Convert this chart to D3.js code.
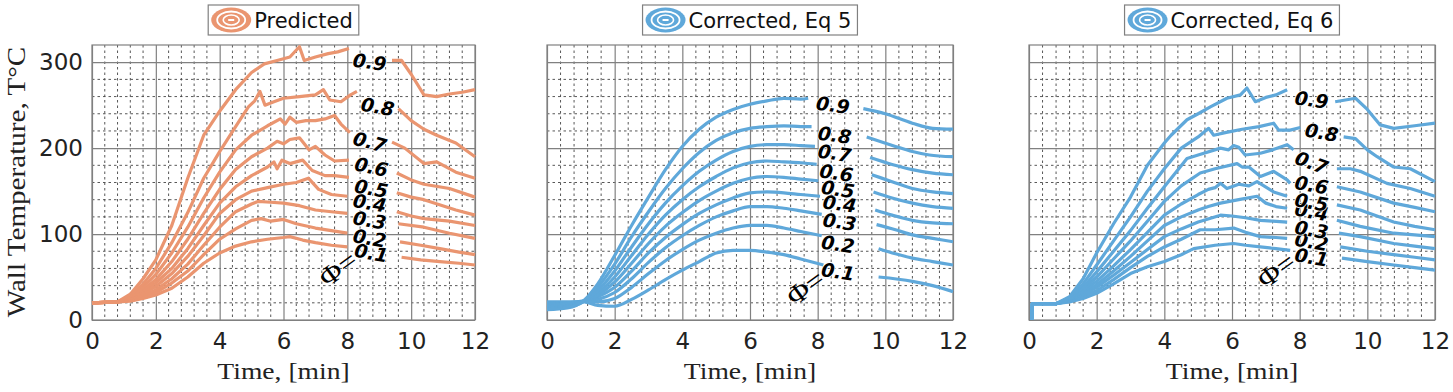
<!DOCTYPE html>
<html lang="en">
<head>
<meta charset="UTF-8">
<title>Wall temperature</title>
<script src="https://cdn.jsdelivr.net/npm/d3@7/dist/d3.min.js"></script>
<style>
  body { margin: 0; background: #fff; }
</style>
</head>
<body>
<svg width="1453" height="392"></svg>
<script>
// labels and ticks
const phiLabels = ["0.1", "0.2", "0.3", "0.4", "0.5", "0.6", "0.7", "0.8", "0.9"];
const panelTitles = ["Predicted", "Corrected, Eq 5", "Corrected, Eq 6"];
const xTicks = [0, 2, 4, 6, 8, 10, 12];
const yTicks = [0, 100, 200, 300];

// series as [time (min), temperature (C)], null = break around the label
const predicted = [
  [[0,20],[0.8,21],[1.2,22],[1.6,25],[2,29],[2.5,37],[3,50],[3.5,66],[4,78],[4.5,86],[5,91],[5.5,94],[6,96],[6.2,97],[6.6,93],[7,90],[7.5,87],[8,85],null,[9.7,73],[10.3,70],[10.9,68],[11.5,66],[12,64]],
  [[0,20],[0.8,21],[1.2,23],[1.6,27],[2,32],[2.5,43],[3,57],[3.5,76],[4,94],[4.5,106],[5,116],[5.3,118],[5.6,115],[6,117],[6.4,112],[7,107],[7.5,104],[8,101],null,[9.65,91],[10.3,87],[10.9,83],[11.5,79],[12,76]],
  [[0,20],[0.8,21],[1.2,23.5],[1.6,29],[2,35],[2.5,48],[3,65],[3.5,87],[4,108],[4.5,126],[5,135],[5.2,138],[5.6,137],[6,136],[6.5,133],[7,128],[7.5,126],[8,124],null,[9.6,112],[10.4,108],[11.2,101],[12,95]],
  [[0,20],[0.8,21],[1.2,24],[1.6,31],[2,39],[2.5,54],[3,74],[3.5,98],[4,124],[4.5,140],[5,150],[5.5,154],[6,158],[6.4,160],[6.78,165],[7.1,152],[7.5,146],[8,144],null,[9.55,126],[10,121],[10.4,118],[11.2,115],[12,110]],
  [[0,20],[0.8,21],[1.2,25],[1.6,33],[2,43],[2.5,60],[3,83],[3.5,110],[4,136],[4.5,155],[5,168],[5.5,178],[5.7,184],[5.8,176],[5.95,186],[6.2,182],[6.6,186],[6.9,174],[7.3,168],[7.6,168],[8.05,166],null,[9.55,148],[10,143],[10.4,140],[11.4,128],[12,122]],
  [[0,20],[0.8,21],[1.2,26],[1.6,35],[2,47],[2.5,68],[3,94],[3.5,124],[4,152],[4.5,175],[5,190],[5.5,200],[5.8,208],[6,205],[6.2,210],[6.5,212],[6.8,198],[7,202],[7.3,192],[7.6,185],[8.05,186],null,[9.55,171],[10,163],[10.4,158],[11.2,153],[12,143]],
  [[0,20],[0.8,21],[1.2,27],[1.6,38],[2,53],[2.5,78],[3,108],[3.5,142],[4,172],[4.5,198],[5,215],[5.5,226],[5.9,234],[6.05,228],[6.2,236],[6.4,230],[6.7,232],[7,232],[7.3,234],[7.6,238],[7.8,228],[8.08,218],null,[9.4,207],[9.8,200],[10.4,182],[10.8,184],[11.4,172],[12,165]],
  [[0,20],[0.8,21],[1.2,28],[1.6,42],[2,60],[2.5,90],[3,125],[3.5,165],[4,196],[4.5,225],[4.9,248],[5.1,255],[5.26,266],[5.42,250],[5.7,254],[6,258],[6.5,260],[7,262],[7.25,268],[7.45,256],[7.8,254],[8.1,262],[8.3,266],null,[9.6,246],[10,232],[10.4,222],[10.8,215],[11.4,206],[12,190]],
  [[0,20],[0.8,21],[1.2,30],[1.6,48],[2,70],[2.5,110],[3,165],[3.5,215],[4,243],[4.5,268],[5,288],[5.4,298],[5.8,302],[6.2,306],[6.5,318],[6.65,302],[7,306],[7.4,310],[7.7,312],[8.05,316],null,[9.4,302],[9.7,302],[10,286],[10.4,262],[10.8,260],[11.2,263],[11.6,265],[12,268]]
];

const correctedEq5 = [
  [[0,21],[0.6,21],[1.1,21],[1.5,17],[2,16],[2.5,24],[3,35],[3.5,47],[4,58],[4.5,68],[5,78],[5.5,81],[6,81],[6.5,79],[7,76],[7.5,71],[8.17,64],null,[9.8,50],[10.8,45],[11.4,40],[12,33]],
  [[0,19.5],[0.6,20],[1.1,22],[1.5,21],[2,25],[2.5,38],[3,54],[3.5,69],[4,82],[4.5,93],[5,101],[5.5,107],[6,110],[6.5,110],[7,107],[7.5,103],[8.12,98],null,[9.8,83],[10.3,77],[10.8,72],[11.4,68],[12,64]],
  [[0,18.5],[0.6,19.5],[1.1,22],[1.5,24],[2,32],[2.5,48],[3,67],[3.5,84],[4,98],[4.5,110],[5,120],[5.5,127],[6,132],[6.5,132],[7,130],[7.5,127],[8.12,123],null,[9.74,111],[10.3,105],[10.8,99],[11.4,95],[12,91]],
  [[0,17.5],[0.6,18.5],[1.1,22],[1.5,27],[2,38],[2.5,57],[3,78],[3.5,96],[4,111],[4.5,124],[5,134],[5.5,142],[6,148],[6.5,149],[7,148],[7.5,146],[8.07,144],null,[9.7,128],[10.2,122],[10.8,116],[11.4,113],[12,112]],
  [[0,16],[0.6,17.5],[1.1,22],[1.5,29],[2,44],[2.5,66],[3,89],[3.5,109],[4,125],[4.5,139],[5,150],[5.5,159],[6,165],[6.5,167],[7,166],[7.5,164],[8.02,162],null,[9.65,149],[10.2,142],[10.8,136],[11.4,132],[12,130]],
  [[0,15],[0.6,16.5],[1.1,22],[1.5,31],[2,50],[2.5,75],[3,100],[3.5,122],[4,140],[4.5,155],[5,167],[5.5,177],[6,183],[6.5,185],[7,184],[7.5,183],[7.97,181],null,[9.6,169],[10.2,161],[10.8,153],[11.4,149],[12,147]],
  [[0,14],[0.6,16],[1.1,22],[1.5,34],[2,57],[2.5,85],[3,112],[3.5,136],[4,156],[4.5,173],[5,186],[5.5,196],[6,202],[6.5,204],[7,204],[7.5,203],[7.92,202],null,[9.55,189],[10.2,181],[10.8,175],[11.4,171],[12,169]],
  [[0,13],[0.6,15],[1.1,22],[1.5,38],[2,65],[2.5,97],[3,126],[3.5,153],[4,176],[4.5,195],[5,209],[5.5,218],[6,223],[6.5,225],[7,226],[7.5,225],[7.82,225],null,[9.45,213],[10.3,202],[10.8,196],[11.3,192],[12,190]],
  [[0,12],[0.6,14],[1.1,23],[1.5,42],[2,75],[2.5,110],[3,143],[3.5,175],[4,202],[4.5,222],[5,236],[5.5,245],[6,251],[6.5,255],[7,258],[7.5,257],[7.72,258],null,[9.35,246],[10,240],[10.8,229],[11.4,223],[12,222]]
];

const correctedEq6 = [
  [[0.08,0],[0.1,19],[0.8,19],[1.2,21],[1.6,25],[2,31],[2.5,42],[3,54],[3.5,62],[4,68],[4.5,76],[4.87,83],[5.5,87],[6.05,89],[6.4,87],[6.84,85],[7.3,83],[7.72,81],null,[9.25,72],[10,68],[10.78,64],[11.4,61],[12,58]],
  [[0.08,0],[0.1,19],[0.8,19],[1.2,22],[1.6,27],[2,34],[2.5,47],[3,61],[3.5,74],[4,85],[4.5,94],[5.06,105],[5.5,105],[6.05,107],[6.4,102],[6.84,97],[7.3,96],[7.63,95],null,[9.2,85],[10,80],[10.78,76],[11.4,73],[12,70]],
  [[0.08,0],[0.1,19],[0.8,19],[1.2,22.5],[1.6,29],[2,38],[2.5,52],[3,67],[3.5,82],[4,97],[4.5,106],[5,114],[5.66,122],[6,121],[6.4,119],[6.84,116],[7.2,115],[7.63,114],null,[9.16,101],[9.79,97],[10.78,89],[11.4,86],[12,83]],
  [[0.08,0],[0.1,19],[0.8,19],[1.2,23],[1.6,31],[2,41],[2.5,57],[3,74],[3.5,92],[4,110],[4.5,120],[5,128],[5.3,132],[5.66,136],[6.2,140],[6.74,144],[7,136],[7.3,132],[7.63,130],null,[9.1,116],[9.79,109],[10.78,101],[11.4,99],[12,97]],
  [[0.08,0],[0.1,19],[0.8,19],[1.2,23.5],[1.6,33],[2,45],[2.5,63],[3,82],[3.5,102],[4,122],[4.5,135],[5,146],[5.3,152],[5.5,154],[5.66,159],[5.85,153],[6.2,158],[6.5,156],[6.74,161],[7.23,149],[7.63,144],null,[9.1,134],[9.79,128],[10.78,114],[11.4,109],[12,105]],
  [[0.08,0],[0.1,19],[0.8,19],[1.2,24],[1.6,35],[2,50],[2.5,71],[3,92],[3.5,115],[4,138],[4.5,156],[5.06,171],[5.5,176],[6.15,182],[6.3,178],[6.5,178],[6.84,167],[7.23,173],[7.63,163],[7.72,159],null,[9.1,155],[9.79,149],[10.78,136],[11.4,131],[12,126]],
  [[0.08,0],[0.1,19],[0.8,19],[1.2,25],[1.6,38],[2,56],[2.5,80],[3,104],[3.5,130],[4,155],[4.67,188],[5,192],[5.66,200],[5.9,198],[6.05,203],[6.2,201],[6.39,192],[6.84,194],[7.2,198],[7.63,204],[7.82,198],null,[9.1,176],[9.5,176],[9.79,173],[10.58,159],[11.27,153],[12,144]],
  [[0.08,0],[0.1,19],[0.8,19],[1.2,26],[1.6,42],[2,64],[2.5,92],[3,120],[3.5,150],[4,176],[4.5,200],[5,213],[5.31,223],[5.46,215],[5.8,218],[6.3,222],[6.8,225],[7.23,229],[7.38,221],[7.72,221],[8.02,224],null,[9.3,213],[9.65,211],[10,198],[10.29,190],[10.78,178],[11.27,176],[12,161]],
  [[0.08,0],[0.1,19],[0.8,19],[1.2,27],[1.6,48],[2,78],[2.5,112],[3,143],[3.5,180],[4,206],[4.2,215],[4.67,233],[5,240],[5.36,248],[5.85,258],[6.25,262],[6.44,270],[6.69,254],[7,259],[7.3,262],[7.63,268],null,[9.05,254],[9.65,258],[10,245],[10.38,227],[10.78,223],[11.4,226],[12,229]]
];

// where the phi labels sit, [time, temperature, angle]
const labelSpots = [
  [[8.75,78,10],[8.7,95,10],[8.7,116,10],[8.7,136,10],[8.75,153,10],[8.75,178,12],[8.7,207,15],[8.95,248,10],[8.7,300,8]],
  [[8.6,56,8],[8.6,88,8],[8.65,114,8],[8.65,135,8],[8.6,152,8],[8.55,171,8],[8.5,194,8],[8.5,215,8],[8.45,250,8]],
  [[8.35,73,10],[8.35,91,10],[8.35,105,10],[8.35,126,10],[8.35,137,10],[8.35,157,10],[8.35,183,20],[8.65,218,10],[8.35,256,8]]
];
const phiSpots = [[7.7, 60], [7.63, 38], [7.3, 58]];

const colors = ["#EA9570", "#5FA8DA", "#5FA8DA"];
const panels = [
  { left: 92, right: 475, series: predicted, curve: d3.curveLinear },
  { left: 547, right: 953, series: correctedEq5, curve: d3.curveMonotoneX },
  { left: 1029, right: 1435, series: correctedEq6, curve: d3.curveLinear }
];
const plotTop = 45, plotBottom = 320;

const svg = d3.select("svg");

panels.forEach(function (p, pi) {
  const x = d3.scaleLinear().domain([0, 12]).range([p.left, p.right]);
  const y = d3.scaleLinear().domain([0, 320]).range([plotBottom, plotTop]);
  const g = svg.append("g");

  // minor grid
  const minorX = d3.range(0, 12.001, 0.4).filter(function (v) { return Math.abs(v / 2 - Math.round(v / 2)) > 0.01; });
  const minorY = d3.range(20, 320, 20).filter(function (v) { return v % 100 !== 0; });
  g.selectAll(".mx").data(minorX).enter().append("line")
    .attr("x1", function (d) { return x(d); }).attr("x2", function (d) { return x(d); })
    .attr("y1", plotTop).attr("y2", plotBottom)
    .attr("stroke", "#444").attr("stroke-width", 0.9).attr("stroke-dasharray", "2.5,3");
  g.selectAll(".my").data(minorY).enter().append("line")
    .attr("x1", p.left).attr("x2", p.right)
    .attr("y1", function (d) { return y(d); }).attr("y2", function (d) { return y(d); })
    .attr("stroke", "#444").attr("stroke-width", 0.9).attr("stroke-dasharray", "2.5,3");

  // major grid via axes
  g.append("g")
    .attr("transform", "translate(0," + plotBottom + ")")
    .call(d3.axisBottom(x).tickValues(xTicks).tickSize(-(plotBottom - plotTop)).tickPadding(13))
    .call(function (a) {
      a.select(".domain").remove();
      a.selectAll("line").attr("stroke", "#808080").attr("stroke-width", 1.2);
      a.selectAll("text").attr("font-family", "DejaVu Sans").attr("font-size", 23).attr("fill", "#222");
    });
  g.append("g")
    .attr("transform", "translate(" + p.left + ",0)")
    .call(d3.axisLeft(y).tickValues(yTicks).tickSize(-(p.right - p.left)).tickPadding(9))
    .call(function (a) {
      a.select(".domain").remove();
      a.selectAll("line").attr("stroke", "#808080").attr("stroke-width", 1.2);
      a.selectAll("text").attr("font-family", "DejaVu Sans").attr("font-size", 23).attr("fill", "#222");
      if (pi > 0) a.selectAll("text").remove();
    });
  g.append("rect")
    .attr("x", p.left).attr("y", plotTop)
    .attr("width", p.right - p.left).attr("height", plotBottom - plotTop)
    .attr("fill", "none").attr("stroke", "#808080").attr("stroke-width", 1.2);

  // lines
  const line = d3.line()
    .defined(function (d) { return d !== null; })
    .x(function (d) { return x(d[0]); })
    .y(function (d) { return y(d[1]); })
    .curve(p.curve);
  g.selectAll(".series").data(p.series).enter().append("path")
    .attr("d", line)
    .attr("fill", "none")
    .attr("stroke", colors[pi])
    .attr("stroke-width", 3.2)
    .attr("stroke-linejoin", "round");

  // phi labels
  labelSpots[pi].forEach(function (s, i) {
    g.append("text")
      .attr("transform", "translate(" + x(s[0]) + "," + y(s[1]) + ") rotate(" + s[2] + ")")
      .attr("text-anchor", "middle").attr("dy", "0.35em")
      .attr("font-family", "DejaVu Sans").attr("font-weight", "bold").attr("font-style", "italic")
      .attr("font-size", 19).attr("fill", "#000")
      .attr("stroke", "#fff").attr("stroke-width", 1.5).attr("paint-order", "stroke")
      .text(phiLabels[i]);
  });
  g.append("text")
    .attr("transform", "translate(" + x(phiSpots[pi][0]) + "," + y(phiSpots[pi][1]) + ") rotate(-36) scale(1.15,1)")
    .attr("text-anchor", "middle").attr("dy", "0.35em")
    .attr("font-family", "Liberation Serif").attr("font-size", 27).attr("fill", "#000")
    .text("Φ=");

  // x label
  g.append("text")
    .attr("transform", "translate(" + ((p.left + p.right) / 2) + ",379) scale(1.2,1)")
    .attr("text-anchor", "middle")
    .attr("font-family", "Liberation Serif").attr("font-size", 23).attr("fill", "#222")
    .text("Time, [min]");

  // legend
  const lg = g.append("g");
  const box = lg.append("rect").attr("y", 5).attr("height", 30)
    .attr("fill", "#fff").attr("stroke", "#808080").attr("stroke-width", 1.2);
  const icon = lg.append("g");
  icon.append("ellipse").attr("rx", 20).attr("ry", 12.5).attr("fill", colors[pi]);
  icon.append("ellipse").attr("rx", 14).attr("ry", 8.5).attr("fill", "none").attr("stroke", "#fff").attr("stroke-width", 1.8);
  icon.append("ellipse").attr("rx", 8).attr("ry", 5).attr("fill", "none").attr("stroke", "#fff").attr("stroke-width", 1.6);
  icon.append("line").attr("x1", -3).attr("x2", 3).attr("stroke", "#fff").attr("stroke-width", 2);
  const label = lg.append("text")
    .attr("y", 28)
    .attr("font-family", "DejaVu Sans").attr("font-size", 21).attr("fill", "#111")
    .text(panelTitles[pi]);
  const tw = label.node().getComputedTextLength();
  const bw = 2 + 42 + 2 + tw + 6;
  const bx = (p.left + p.right) / 2 - bw / 2;
  box.attr("x", bx).attr("width", bw);
  icon.attr("transform", "translate(" + (bx + 2 + 21) + ",20)");
  label.attr("x", bx + 2 + 42 + 2);
});

// y label
svg.append("text")
  .attr("transform", "translate(25,182) rotate(-90) scale(1.12,1)")
  .attr("text-anchor", "middle")
  .attr("font-family", "Liberation Serif").attr("font-size", 26).attr("fill", "#222")
  .text("Wall Temperature, T°C");
</script>
</body>
</html>
